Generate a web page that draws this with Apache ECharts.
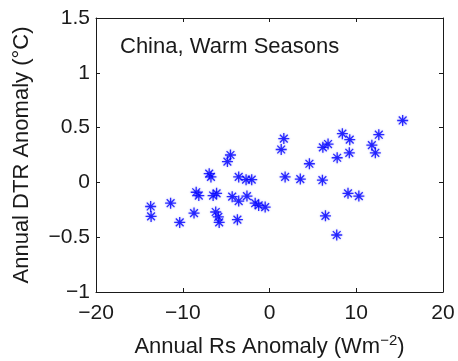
<!DOCTYPE html>
<html>
<head>
<meta charset="utf-8">
<script src="https://cdn.jsdelivr.net/npm/echarts@6/dist/echarts.min.js"></script>
<style>
  html, body { margin: 0; padding: 0; background: #fff; }
  #chart { width: 458px; height: 361px; }
</style>
</head>
<body>
<div id="chart"></div>
<script>
// Annual surface solar radiation anomaly (W m^-2) vs DTR anomaly (°C), China warm seasons
const rsAnomaly = [
  -13.7, -13.65, -11.4, -10.35, -8.7, -8.45, -8.15, -6.95, -6.75, -6.5,
  -6.1, -6.2, -5.9, -5.8, -4.85, -4.5, -4.3, -3.55, -3.7, -3.55,
  -2.7, -2.6, -2.05, -1.65, -1.25, -0.5, 1.35, 1.65, 1.8, 3.55,
  4.6, 6.1, 6.15, 6.75, 6.45, 7.8, 7.75, 8.4, 9.25, 9.2,
  9.05, 10.3, 11.8, 12.2, 12.6, 15.35
];
const dtrAnomaly = [
  -0.22, -0.31, -0.19, -0.365, -0.28, -0.09, -0.12, 0.08, 0.05, -0.12,
  -0.10, -0.27, -0.315, -0.365, 0.19, 0.25, -0.13, -0.17, -0.34, 0.05,
  0.025, -0.125, 0.025, -0.19, -0.21, -0.225, 0.30, 0.40, 0.05, 0.03,
  0.17, 0.02, 0.32, 0.35, -0.305, 0.225, -0.48, 0.445, 0.39, 0.27,
  -0.10, -0.125, 0.34, 0.27, 0.435, 0.565
];
const xTicks = [-20, -10, 0, 10, 20];
const yTicks = [-1, -0.5, 0, 0.5, 1, 1.5];
const panelLabel = 'China, Warm Seasons';

const FONT = '"Liberation Sans", Arial, Helvetica, sans-serif';
const INK = '#1a1a1a';
const minus = v => String(v).replace('-', '\u2212');

// asterisk marker: horizontal, vertical and two diagonal strokes
const asterisk = 'path://M0 5L10 5M5 0L5 10M1.46 1.46L8.54 8.54M1.46 8.54L8.54 1.46';

const points = rsAnomaly.map((x, i) => [x, dtrAnomaly[i]]);

// top and right edges of the frame, ticks only
const boxAxis = {
  axisLine: { show: true, onZero: false, lineStyle: { color: INK, width: 1 } },
  axisTick: { show: true, inside: true, length: 4, lineStyle: { color: INK } },
  axisLabel: { show: false },
  splitLine: { show: false }
};

const chart = echarts.init(document.getElementById('chart'), null, { renderer: 'canvas' });
chart.setOption({
  animation: false,
  backgroundColor: '#fff',
  textStyle: { fontFamily: FONT },
  grid: { left: 96, right: 15, top: 18, bottom: 69, containLabel: false, outerBoundsMode: 'none' },
  title: {
    text: panelLabel,
    left: 115, top: 31,
    textStyle: { fontFamily: FONT, fontSize: 22, fontWeight: 'normal', color: INK }
  },
  xAxis: [{
    type: 'value', min: xTicks[0], max: xTicks[xTicks.length - 1], interval: 10,
    position: 'bottom',
    axisLine: { show: true, onZero: false, lineStyle: { color: INK, width: 1 } },
    axisTick: { show: true, inside: true, length: 4, lineStyle: { color: INK } },
    axisLabel: { fontSize: 21, color: INK, margin: 11, formatter: minus },
    splitLine: { show: false },
    name: 'Annual Rs Anomaly (Wm{sup|\u22122})',
    nameLocation: 'middle', nameGap: 41,
    nameTextStyle: {
      fontSize: 22, color: INK, fontFamily: FONT,
      rich: { sup: { fontSize: 15, color: INK, fontFamily: FONT, padding: [0, 0, 13, 0] } }
    }
  }, Object.assign({
    type: 'value', min: xTicks[0], max: xTicks[xTicks.length - 1], interval: 10, position: 'top'
  }, boxAxis)],
  yAxis: [{
    type: 'value', min: yTicks[0], max: yTicks[yTicks.length - 1], interval: 0.5,
    position: 'left',
    axisLine: { show: true, onZero: false, lineStyle: { color: INK, width: 1 } },
    axisTick: { show: true, inside: true, length: 4, lineStyle: { color: INK } },
    axisLabel: { fontSize: 21, color: INK, margin: 6, formatter: minus },
    splitLine: { show: false },
    name: 'Annual DTR Anomaly (\u00b0C)',
    nameLocation: 'middle', nameGap: 63,
    nameTextStyle: { fontSize: 22, color: INK, fontFamily: FONT }
  }, Object.assign({
    type: 'value', min: yTicks[0], max: yTicks[yTicks.length - 1], interval: 0.5, position: 'right'
  }, boxAxis)],
  series: [{
    type: 'scatter',
    data: points,
    symbol: asterisk,
    symbolSize: 11,
    itemStyle: {
      color: 'transparent',
      borderColor: '#0000ff',
      borderWidth: 1.3,
      shadowColor: 'rgba(60,60,255,0.55)',
      shadowBlur: 2
    },
    emphasis: { disabled: true }
  }]
});
</script>
</body>
</html>
